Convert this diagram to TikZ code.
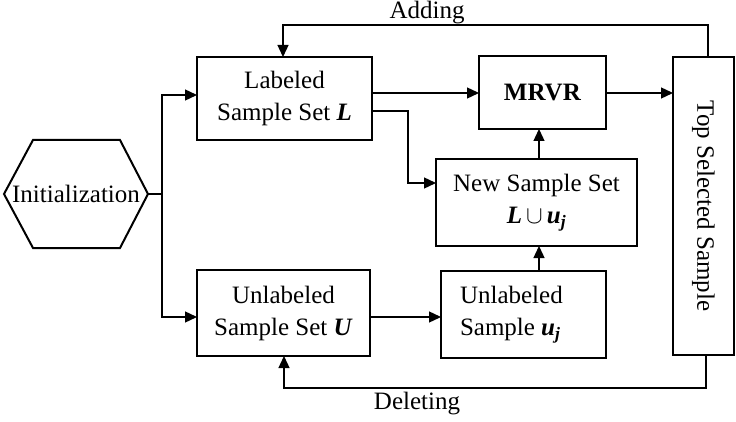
\documentclass[tikz,border=0pt]{standalone}
\usepackage{fontspec}
\setmainfont{Liberation Serif}
\usetikzlibrary{arrows.meta}
\newcommand{\bi}[1]{\textbf{\textit{#1}}}
\begin{document}
\begin{tikzpicture}[x=1pt,y=-1pt,
  every node/.style={font=\fontsize{25}{32}\selectfont, inner sep=0pt, outer sep=0pt},
  box/.style={draw, line width=2pt, rectangle, align=center},
  link/.style={line width=1.3pt, -{Triangle[length=12pt,width=11pt]}},
  plain/.style={line width=1.3pt}]
\useasboundingbox (0,0) rectangle (736,422);

% start node: hexagon with pointed left and right ends
\draw[line width=2pt, line join=miter]
  (4,194) -- (33,140) -- (120,140) -- (148,194) -- (120,248) -- (33,248) -- cycle;
\node (init) at (76,194) {Initialization};
\coordinate (initE) at (148,194);

% process boxes
\node[box, minimum width=175pt, minimum height=83pt] (L) at (284.5,98.5)
      {Labeled\\Sample Set \bi{L}};
\node[box, minimum width=173pt, minimum height=86pt] (U) at (283.5,313)
      {Unlabeled\\Sample Set \bi{U}};
\node[box, minimum width=127pt, minimum height=73pt] (M) at (542.5,92.5)
      {\textbf{MRVR}};
\node[box, minimum width=201pt, minimum height=87pt] (N) at (536.5,202.5)
      {New Sample Set\\\bi{L}\,$\cup$\,\bi{u}\textsubscript{\bi{j}}};
\node[draw, line width=2pt, minimum width=165pt, minimum height=87pt] (uj) at (523.5,314.5) {};
\node[align=left, anchor=west] (ujtext) at (460,314.5)
      {Unlabeled\\Sample \bi{u}\textsubscript{\bi{j}}};
\node[box, minimum width=61pt, minimum height=298pt] (T) at (703.5,206) {};
\node[rotate=-90] (Ttext) at (T.center) {Top Selected Sample};

% labels of the feedback loops
\node[anchor=base] (add) at (427,19) {Adding};
\node[anchor=base] (del) at (417,409) {Deleting};

% branching from the start node
\coordinate (br) at (162,194);
\draw[plain] (initE) -- (br);
\draw[link] (br) |- (L.west |- 0,95);
\draw[link] (br) |- (U.west |- 0,317);

% main flow
\draw[link] (L.east |- 0,93) -- (M.west |- 0,93);
\draw[link] (L.east |- 0,111) -| (408,183) -- (N.west |- 0,183);
\draw[link] (U.east |- 0,317) -- (uj.west |- 0,317);
\draw[link] (uj.north -| 539,0) -- (N.south -| 539,0);
\draw[link] (N.north -| 539,0) -- (M.south -| 539,0);
\draw[link] (M.east |- 0,93) -- (T.west |- 0,93);

% feedback loops
\draw[link] (T.north -| 708,0) |- (283,25) -- (L.north -| 283,0);
\draw[link] (T.south -| 706,0) |- (284,388) -- (U.south -| 284,0);
\end{tikzpicture}
\end{document}
